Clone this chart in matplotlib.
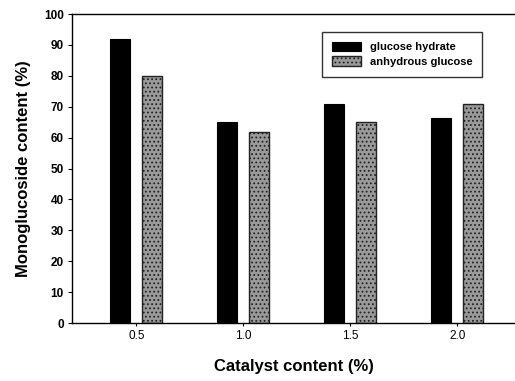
import matplotlib
matplotlib.use("Agg")
import matplotlib.pyplot as plt
import numpy as np

plt.rcParams['font.family'] = ['Liberation Sans', 'DejaVu Sans']
plt.rcParams['hatch.linewidth'] = 0.8

catalyst = [0.5, 1.0, 1.5, 2.0]
glucose_hydrate = [92, 65, 71, 66.5]
anhydrous_glucose = [80, 62, 65, 71]
yticks = [0, 10, 20, 30, 40, 50, 60, 70, 80, 90, 100]
xticklabels = ["0.5", "1.0", "1.5", "2.0"]

fig = plt.figure(figsize=(5.15, 3.81), dpi=100)
ax = fig.add_axes([0.140, 0.152, 0.860, 0.811])

x = np.array(catalyst)
w = 0.095
ax.bar(x - 0.075, glucose_hydrate, width=w, color='black', edgecolor='black',
       linewidth=0.8, label='glucose hydrate')
ax.bar(x + 0.075, anhydrous_glucose, width=w, color='#9a9a9a', edgecolor='#222222',
       linewidth=1.0, hatch='....', label='anhydrous glucose')

ax.set_xlim(0.2, 2.27)
ax.set_ylim(0, 100)
ax.set_yticks(yticks)
ax.set_yticklabels([str(v) for v in yticks], fontsize=8.5, fontweight='bold')
ax.set_xticks(catalyst)
ax.set_xticklabels(xticklabels, fontsize=8.5)
ax.tick_params(axis='both', direction='out', length=3, width=0.8, pad=3)
ax.tick_params(axis='x', length=2)

ax.spines['right'].set_visible(False)
for s in ['left', 'top', 'bottom']:
    ax.spines[s].set_linewidth(1.0)

ax.set_xlabel('Catalyst content (%)', fontsize=12, fontweight='bold', labelpad=12)
ax.set_ylabel('Monoglucoside content (%)', fontsize=12, fontweight='bold', labelpad=9)

leg = ax.legend(loc='upper left', bbox_to_anchor=(0.564, 0.942), borderaxespad=0,
                prop={'weight': 'bold', 'size': 8}, frameon=True, fancybox=False,
                edgecolor='black', handlelength=2.6, handleheight=0.9,
                borderpad=0.9, labelspacing=0.35, handletextpad=0.8)
leg.get_frame().set_linewidth(1.0)

fig.savefig('out.png', dpi=100)
